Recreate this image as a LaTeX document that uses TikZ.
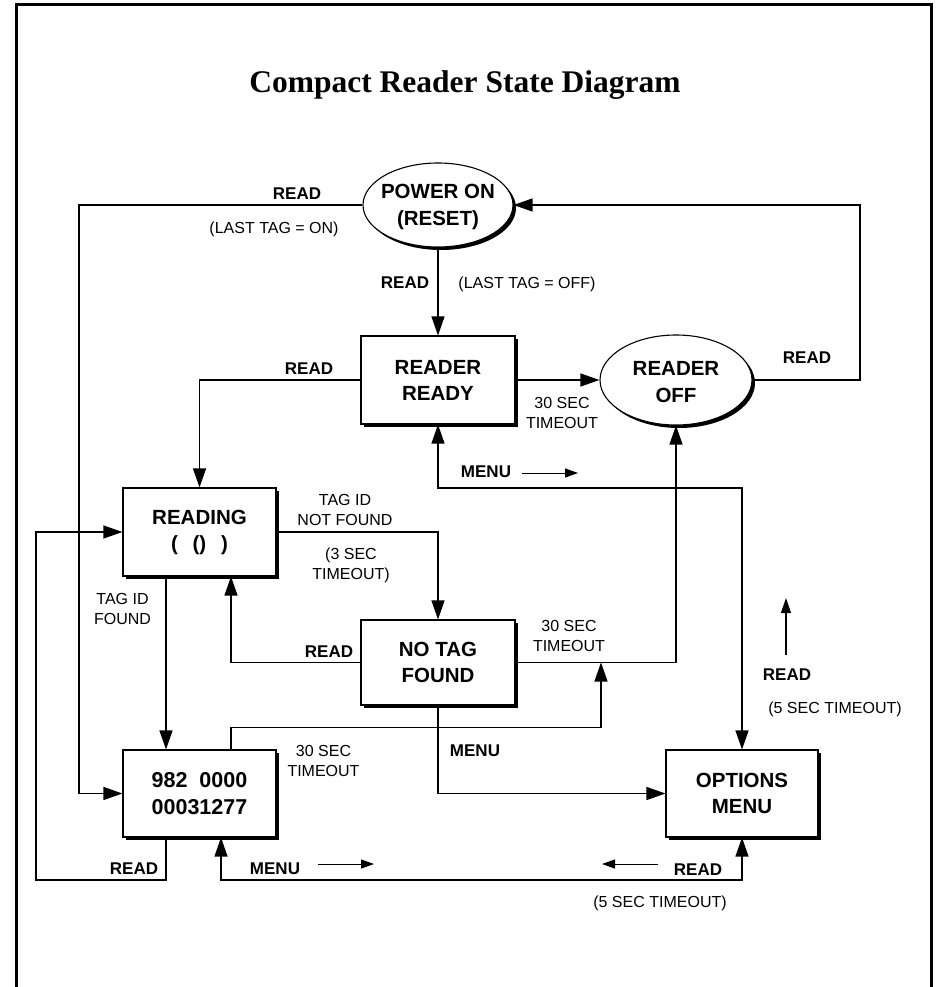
\documentclass[tikz,border=0pt]{standalone}
\usepackage{fontspec}
\setmainfont{Liberation Sans}
\newfontfamily\titlefont{Liberation Serif}
\usetikzlibrary{arrows.meta,shapes.geometric,shadows,calc}
\begin{document}
\begin{tikzpicture}[x=1pt,y=-1pt,
  shad/.style={drop shadow={shadow xshift=3pt,shadow yshift=-3pt,fill=black,opacity=1}},
  state/.style={draw=black,line width=1.1pt,fill=white,rectangle,minimum width=153pt,
    minimum height=87pt,inner sep=0pt,shad,align=center,
    font=\fontsize{20.5}{26}\selectfont\bfseries},
  oval/.style={draw=black,line width=1.1pt,fill=white,ellipse,inner sep=0pt,shad},
  stxt/.style={font=\fontsize{20.5}{27}\selectfont\bfseries,align=center,inner sep=0pt},
  conn/.style={line width=1.2pt},
  arr/.style={conn,-{Triangle[length=19pt,width=13pt]}},
  arrb/.style={conn,{Triangle[length=19pt,width=13pt]}-{Triangle[length=19pt,width=13pt]}},
  lab/.style={font=\fontsize{17}{20}\selectfont\bfseries,inner sep=0pt,anchor=base},
  note/.style={font=\fontsize{16}{20}\selectfont,inner sep=0pt,align=center},
  small/.style={line width=1pt,-{Triangle[length=13pt,width=9pt]}},
]
\useasboundingbox (0,0) rectangle (937,987);
\fill[white] (0,0) rectangle (937,987);
% frame
\draw[line width=3pt] (16,1000) -- (16,5) -- (931,5) -- (931,1000);
% title
\node[inner sep=0pt,anchor=base,font=\titlefont\bfseries\fontsize{31.5}{36}\selectfont] (title) at (465,93) {Compact Reader State Diagram};

% helper coordinates
\coordinate (lft) at (79,0);
\coordinate (rgt) at (860,0);
\coordinate (mrow) at (0,488);
\coordinate (brow) at (0,880);
\coordinate (xa) at (166,0);
\coordinate (xb) at (231,0);
\coordinate (xc) at (601,0);
\coordinate (xd) at (221,0);
\coordinate (xl) at (36,0);

% states
\node[oval,minimum width=150pt,minimum height=84pt] (pwr) at (438,205) {};
\node[stxt] (pwrt) at (438,207) {POWER ON\\(RESET)};
\node[state,minimum width=154pt,minimum height=88pt] (rdy) at (438,380) {READER\\READY};
\node[oval,minimum width=152pt,minimum height=90pt] (off) at (676,380) {};
\node[stxt] (offt) at (676,382) {READER\\OFF};
\node[state,minimum height=88pt] (reading) at (199.5,532) {READING\\(~~\,()~~\,)};
\node[state,minimum width=154pt,minimum height=85pt] (notag) at (438,662.5) {NO TAG\\FOUND};
\node[state,font=\fontsize{21.5}{27}\selectfont\bfseries] (num) at (199.5,793.5) {982~~0000\\00031277};
\node[state,minimum width=152pt] (opt) at (742,793.5) {OPTIONS\\MENU};

% connectors
\draw[arr] (pwr.west) -- (pwr.west -| lft) |- (num.west);
\draw[arr] (pwr.south) -- (rdy.north);
\draw[arr] (rdy.east) -- (off.west);
\draw[arr] (off.east) -- (off.east -| rgt) |- (pwr.east);
\draw[arr] (rdy.west) -| (reading.north);
\draw[arr] (notag.east) -| (off.south);
\draw[arrb] (rdy.south) -- (rdy.south |- mrow) -| (opt.north);
\draw[arr] (reading.east) -| (notag.north);
\draw[arr] (reading.south -| xa) -- (num.north -| xa);
\draw[arr] (notag.west) -| (reading.south -| xb);
\draw[arr] (num.north -| xb) -- ++(0,-22) -| (notag.east -| xc);
\draw[arr] (notag.south) |- (opt.west);
\draw[arr] (num.south -| xa) |- (xl |- brow) |- (reading.west);
\draw[arrb] (num.south -| xd) |- (opt.south |- brow) -- (opt.south);

% labels
\node[lab] (l1) at (297,200) {READ};
\node[note,anchor=base] (l2) at (274,233) {(LAST TAG = ON)};
\node[lab] (l3) at (405,288) {READ};
\node[note,anchor=base] (l4) at (527,288) {(LAST TAG = OFF)};
\node[lab] (l5) at (309,374) {READ};
\node[lab] (l6) at (807,363) {READ};
\node[note] (l7) at (562,412.5) {30 SEC\\TIMEOUT};
\node[lab] (l8) at (486,477) {MENU};
\coordinate (a1s) at (522,473); \coordinate (a1e) at (578,473);
\draw[small] (a1s) -- (a1e);
\node[note] (l9) at (345,510) {TAG ID\\NOT FOUND};
\node[note] (l10) at (351,565.5) {(3 SEC\\TIMEOUT)};
\node[note] (l11) at (122.5,608.5) {TAG ID\\FOUND};
\node[lab] (l12) at (329,657) {READ};
\node[note] (l13) at (569,636) {30 SEC\\TIMEOUT};
\coordinate (a2s) at (786,655); \coordinate (a2e) at (786,598);
\draw[small,line width=1.2pt,-{Triangle[length=15pt,width=10pt]}] (a2s) -- (a2e);
\node[lab] (l14) at (787,680) {READ};
\node[note,anchor=base] (l15) at (835,713) {(5 SEC TIMEOUT)};
\node[lab] (l16) at (475,756) {MENU};
\node[note] (l17) at (323.5,761) {30 SEC\\TIMEOUT};
\node[lab] (l18) at (134,874) {READ};
\node[lab] (l19) at (275,874) {MENU};
\coordinate (a3s) at (318,864); \coordinate (a3e) at (374,864);
\draw[small] (a3s) -- (a3e);
\node[lab] (l20) at (698,875) {READ};
\coordinate (a4s) at (658,864); \coordinate (a4e) at (602,864);
\draw[small] (a4s) -- (a4e);
\node[note,anchor=base] (l21) at (660,907) {(5 SEC TIMEOUT)};
\end{tikzpicture}
\end{document}
